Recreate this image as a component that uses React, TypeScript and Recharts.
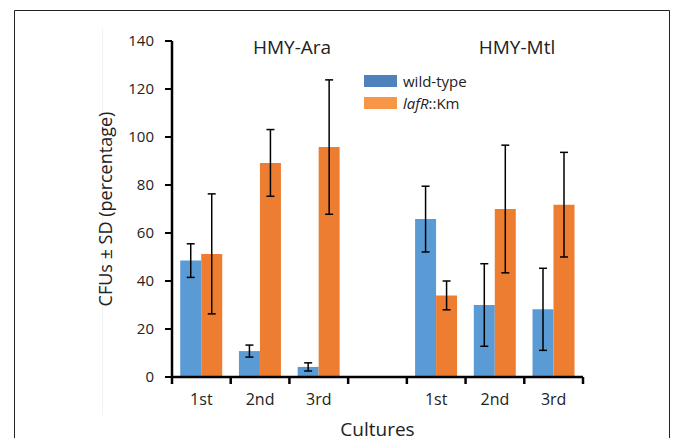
import { BarChart, Bar, XAxis, YAxis, ErrorBar, Legend } from 'recharts';

const CULTURES = ['1st', '2nd', '3rd', '', '1st', '2nd', '3rd'];
const WILD_TYPE = [48.5, 10.8, 4.2, null, 65.8, 30, 28.2];
const WILD_TYPE_SD = [7, 2.5, 1.7, null, 13.7, 17.2, 17.1];
const LAFR_KM = [51.3, 89.2, 95.8, null, 34, 70, 71.8];
const LAFR_KM_SD = [25, 13.9, 28, null, 6, 26.6, 21.8];
const Y_TICKS = [0, 20, 40, 60, 80, 100, 120, 140];
const GROUP_TITLES = ['HMY-Ara', 'HMY-Mtl'];

const FONT = '"Open Sans", sans-serif';
const TEXT = '#222';
const BLUE = '#5B9BD5';
const ORANGE = '#ED7D31';

const data = CULTURES.map((name, i) => ({
  name,
  wt: WILD_TYPE[i],
  wtSd: WILD_TYPE_SD[i],
  lafr: LAFR_KM[i],
  lafrSd: LAFR_KM_SD[i],
}));

// label in the band centre, tick marks on the band edges (Excel style)
function CultureTick(props: any) {
  const { x, y, payload, index, width } = props;
  const half = Number(width) / CULTURES.length / 2;
  const isLast = index === CULTURES.length - 1;
  return (
    <g>
      <line x1={x - half} x2={x - half} y1={y} y2={y + 7} stroke="#000" strokeWidth={2.5} />
      {isLast && <line x1={x + half} x2={x + half} y1={y} y2={y + 7} stroke="#000" strokeWidth={2.5} />}
      <text x={x} y={y + 28} textAnchor="middle" fontSize={16} fill={TEXT} fontFamily={FONT}>
        {payload.value}
      </text>
    </g>
  );
}

function LegendBox() {
  const rows = [
    { color: '#4F81BD', label: <>wild-type</> },
    { color: '#F79646', label: <><i>lafR</i>::Km</> },
  ];
  return (
    <div style={{ fontFamily: FONT, fontSize: 15, color: TEXT }}>
      {rows.map((r, i) => (
        <div key={i} style={{ display: 'flex', alignItems: 'center', height: 22 }}>
          <span style={{ display: 'inline-block', width: 33, height: 12, background: r.color, marginRight: 6 }} />
          <span>{r.label}</span>
        </div>
      ))}
    </div>
  );
}

export default function App() {
  return (
    <div style={{ position: 'fixed', left: 0, top: 0, width: 673, height: 438, overflow: 'hidden', background: '#fff' }}>
      <svg width={673} height={438} style={{ position: 'absolute', left: 0, top: 0 }}>
        <path d="M14.5 450 L14.5 10.5 L669.5 10.5 L669.5 450" fill="none" stroke="#222" strokeWidth={1} />
        <line x1={102.5} x2={102.5} y1={28} y2={415} stroke="#f2f2f2" strokeWidth={1} />
        <text x={292} y={54} textAnchor="middle" fontSize={19} fill={TEXT} fontFamily={FONT}>{GROUP_TITLES[0]}</text>
        <text x={517} y={54} textAnchor="middle" fontSize={19} fill={TEXT} fontFamily={FONT}>{GROUP_TITLES[1]}</text>
      </svg>
      <div style={{ position: 'absolute', left: 0, top: 0 }}>
        <BarChart
          width={673}
          height={438}
          data={data}
          margin={{ top: 41, right: 90, bottom: 11, left: 112 }}
          barCategoryGap="14%"
          barGap={0}
          style={{ fontFamily: FONT }}
        >
          <XAxis
            dataKey="name"
            interval={0}
            tickSize={0}
            tickMargin={0}
            tickLine={false}
            tick={<CultureTick />}
            axisLine={{ stroke: '#000', strokeWidth: 2.5 }}
            height={50}
            label={(p: any) => {
              const vb = p.viewBox;
              return (
                <text x={vb.x + vb.width / 2} y={435.5} textAnchor="middle" fontSize={19} fill={TEXT} fontFamily={FONT}>
                  Cultures
                </text>
              );
            }}
          />
          <YAxis
            domain={[0, 140]}
            ticks={Y_TICKS}
            interval={0}
            width={60}
            tickSize={7}
            tickMargin={11}
            axisLine={{ stroke: '#000', strokeWidth: 2.5 }}
            tickLine={{ stroke: '#000', strokeWidth: 2 }}
            tick={{ fontSize: 15, fill: TEXT, fontFamily: FONT }}
            label={(p: any) => {
              const vb = p.viewBox;
              const cy = vb.y + vb.height / 2;
              return (
                <text
                  x={105}
                  y={cy}
                  transform={`rotate(-90 105 ${cy})`}
                  textAnchor="middle"
                  dominantBaseline="central"
                  fontSize={18}
                  fill={TEXT}
                  fontFamily={FONT}
                >
                  CFUs ± SD (percentage)
                </text>
              );
            }}
          />
          <Legend
            layout="vertical"
            verticalAlign="middle"
            align="center"
            wrapperStyle={{ left: 364, top: 70, width: 'auto' }}
            content={<LegendBox />}
          />
          <Bar dataKey="wt" name="wild-type" fill={BLUE} isAnimationActive={false}>
            <ErrorBar dataKey="wtSd" direction="y" width={4} stroke="#000" strokeWidth={1.5} />
          </Bar>
          <Bar dataKey="lafr" name="lafR::Km" fill={ORANGE} isAnimationActive={false}>
            <ErrorBar dataKey="lafrSd" direction="y" width={4} stroke="#000" strokeWidth={1.5} />
          </Bar>
        </BarChart>
      </div>
    </div>
  );
}
